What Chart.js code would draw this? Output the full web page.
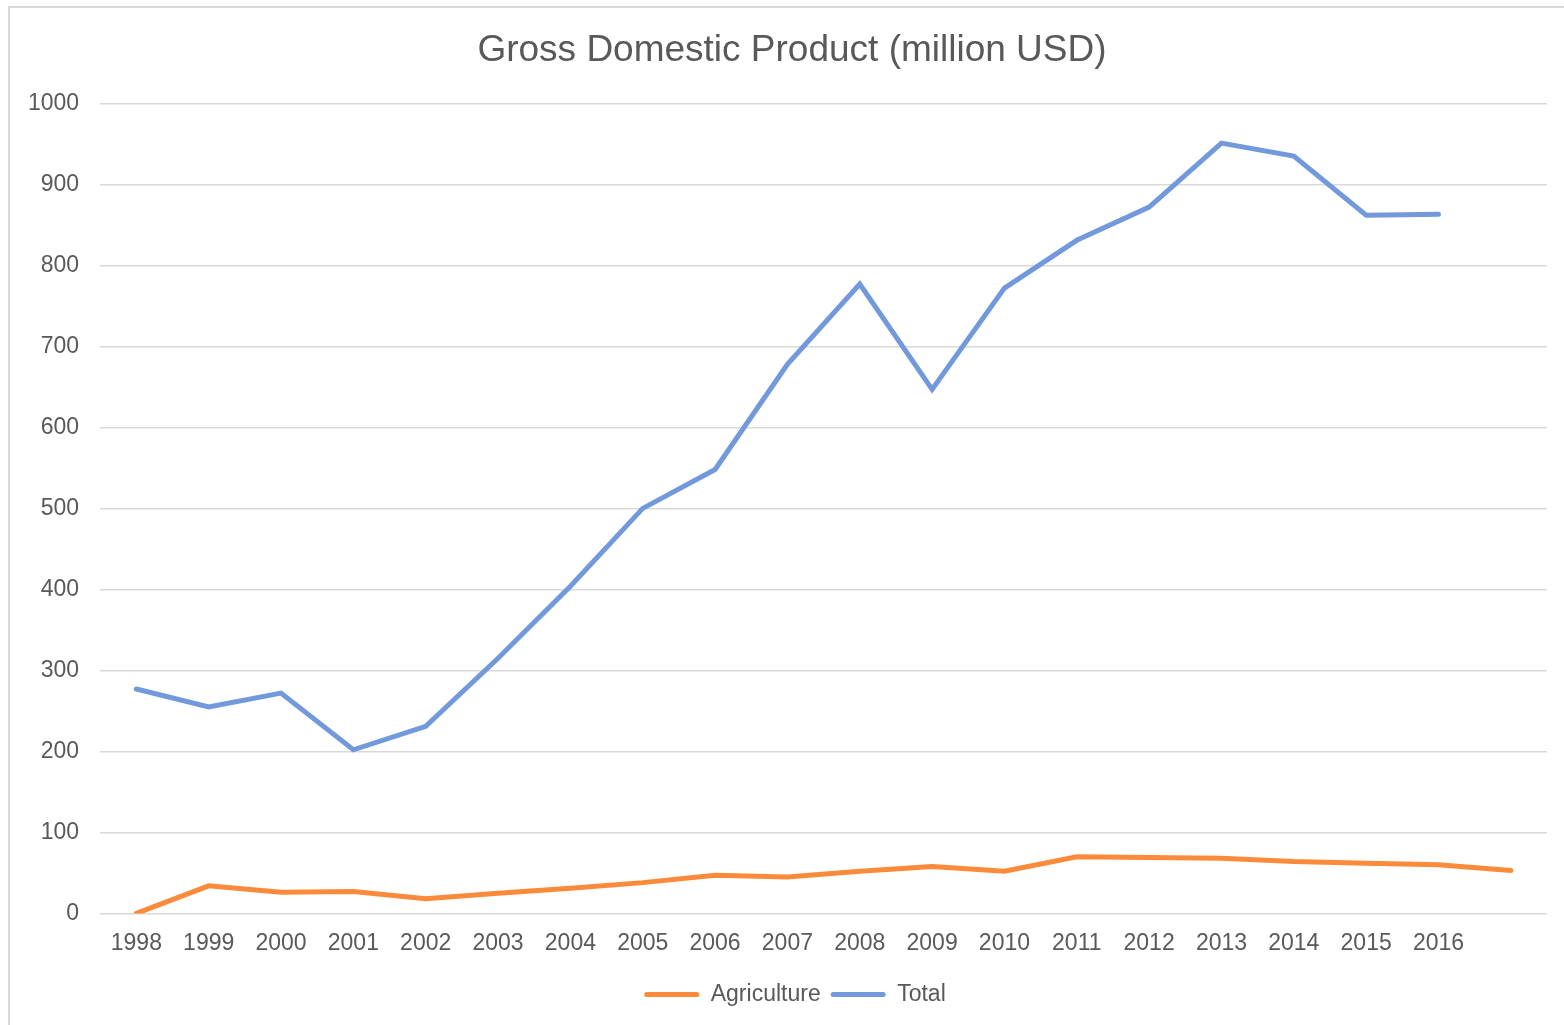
<!DOCTYPE html>
<html>
<head>
<meta charset="utf-8">
<title>Gross Domestic Product</title>
<script src="https://cdn.jsdelivr.net/npm/chart.js@4"></script>
<style>
    html, body { margin: 0; padding: 0; background: #fff; overflow: hidden; }
    #wrap { position: relative; width: 1564px; height: 1025px; }
    #frame { position: absolute; left: 8px; top: 6px; width: 1600px; height: 1100px;
             border-left: 2px solid #d9d9d9; border-top: 2px solid #d9d9d9; pointer-events: none; }
</style>
</head>
<body>
<div id="wrap">
    <canvas id="chart-gdp" width="1564" height="1025"></canvas>
    <div id="frame"></div>
</div>
<script>
// Years along the x axis (last slot has no label)
const years = ['1998', '1999', '2000', '2001', '2002', '2003', '2004', '2005', '2006', '2007',
               '2008', '2009', '2010', '2011', '2012', '2013', '2014', '2015', '2016', ''];

// GDP, million USD
const agriculture = [0, 34, 26, 27, 18, 25, 31, 38, 47, 45, 52, 58, 52, 70, 69, 68, 64, 62, 60, 53];
const total = [277, 255, 272, 202, 231, 315, 404, 500, 548, 678, 777, 647, 772, 831, 872, 951, 935, 862, 863, null];

const yTicks = { min: 0, max: 1000, step: 100 };

const TEXT = '#595959';
const GRID = '#d9d9d9';
const FONT = "'Liberation Sans', Arial, sans-serif";

function lineSeries(label, data, color) {
    return {
        label: label,
        data: data,
        borderColor: color,
        backgroundColor: color,
        borderWidth: 5,
        borderCapStyle: 'round',
        borderJoinStyle: 'miter',
        pointRadius: 0,
        pointHoverRadius: 0,
        tension: 0,
        spanGaps: false
    };
}

// Title and legend are centred on the whole frame, not on the padded box
const recenterBlocks = {
    id: 'recenterBlocks',
    afterLayout(chart) {
        const shift = (box, dx) => { if (box) { box.left += dx; box.right += dx; } };
        shift(chart.titleBlock, 15);
        shift(chart.legend, 18);
    }
};

const ctx = document.getElementById('chart-gdp');
window.gdpChart = new Chart(ctx, {
    type: 'line',
    data: {
        labels: years,
        datasets: [
            lineSeries('Agriculture', agriculture, '#fb8b3b'),
            lineSeries('Total', total, '#7299db')
        ]
    },
    plugins: [recenterBlocks],
    options: {
        responsive: false,
        animation: false,
        layout: { padding: { left: 7, right: 17, top: 0, bottom: 9 } },
        plugins: {
            title: {
                display: true,
                text: 'Gross Domestic Product (million USD)',
                color: TEXT,
                font: { family: FONT, size: 37, weight: 'normal' },
                padding: { top: 29, bottom: 30 }
            },
            legend: {
                position: 'bottom',
                labels: {
                    color: TEXT,
                    font: { family: FONT, size: 23 },
                    boxWidth: 55,
                    boxHeight: 5,
                    padding: 10,
                    generateLabels: (chart) => chart.data.datasets.map((ds, i) => ({
                        text: ds.label,
                        fillStyle: ds.borderColor,
                        strokeStyle: ds.borderColor,
                        lineWidth: 0,
                        fontColor: TEXT,
                        datasetIndex: i,
                        hidden: false,
                        borderRadius: 2.5
                    })),
                    useBorderRadius: true,
                    borderRadius: 2.5
                }
            },
            tooltip: { enabled: false }
        },
        scales: {
            x: {
                offset: true,
                grid: { display: false, drawTicks: false, offset: true },
                border: { display: false },
                ticks: {
                    color: TEXT,
                    font: { family: FONT, size: 23 },
                    padding: 16,
                    maxRotation: 0,
                    autoSkip: false
                }
            },
            y: {
                min: yTicks.min,
                max: yTicks.max,
                grid: { color: GRID, lineWidth: 1.5, drawTicks: false },
                border: { display: false },
                ticks: {
                    stepSize: yTicks.step,
                    color: TEXT,
                    font: { family: FONT, size: 23 },
                    padding: 21,
                    callback: (v) => String(v)
                }
            }
        }
    }
});
</script>
</body>
</html>
